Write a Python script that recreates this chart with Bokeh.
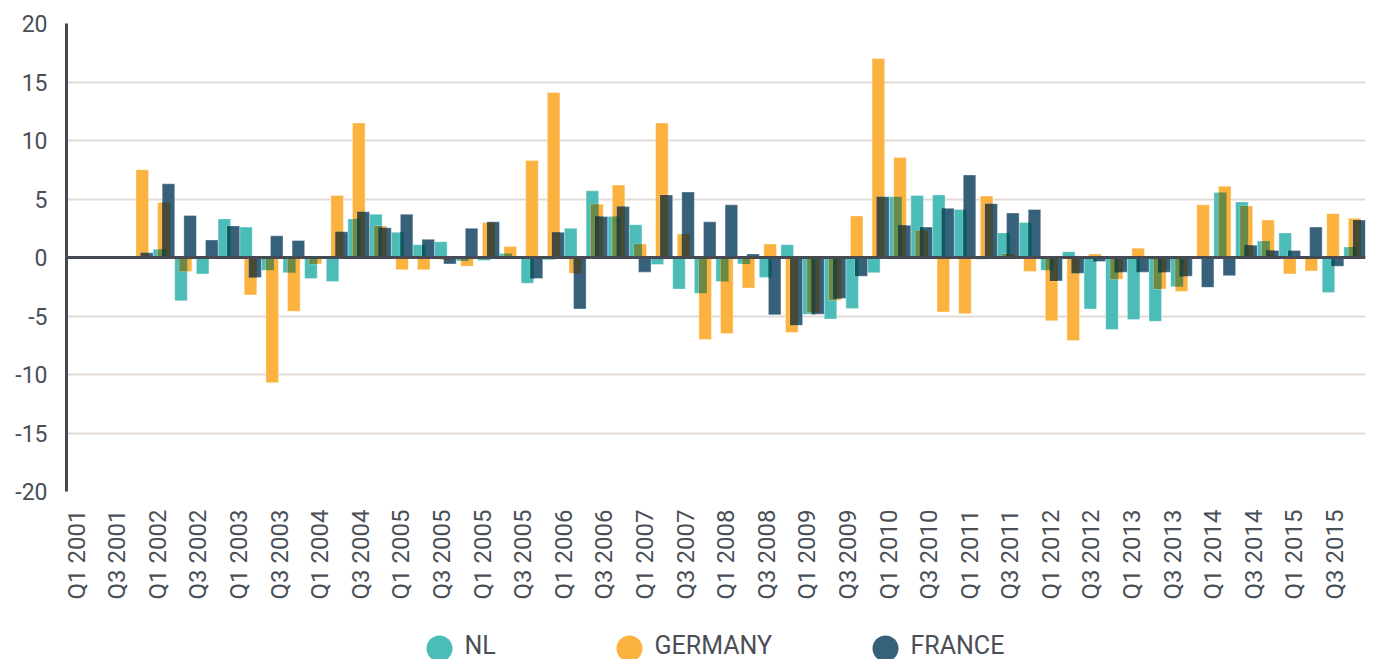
import math
from bokeh.plotting import figure
from bokeh.models import Range1d, LinearAxis, FixedTicker, Span
from bokeh.layouts import column
from bokeh.embed import file_html
from bokeh.resources import INLINE
from bokeh.core.properties import value

# ---------------- data ----------------
quarters = [f"Q{q} {y}" for y in range(2001, 2016) for q in range(1, 5)]  # 60 bar groups

tick_labels = ["Q1 2001", "Q3 2001", "Q1 2002", "Q3 2002", "Q1 2003", "Q3 2003",
               "Q1 2004", "Q3 2004", "Q1 2005", "Q3 2005", "Q1 2005", "Q3 2005",
               "Q1 2006", "Q3 2006", "Q1 2007", "Q3 2007", "Q1 2008", "Q3 2008",
               "Q1 2009", "Q3 2009", "Q1 2010", "Q3 2010", "Q1 2011", "Q3 2011",
               "Q1 2012", "Q3 2012", "Q1 2013", "Q3 2013", "Q1 2014", "Q3 2014",
               "Q1 2015", "Q3 2015"]

NL = [None, None, None, 0, 0.7, -3.7, -1.4, 3.3, 2.6, -1.1,
      -1.3, -1.8, -2.05, 3.3, 3.7, 2.15, 1.1, 1.35, -0.3, -0.25,
      0.35, -2.2, -0.2, 2.5, 5.7, 3.5, 2.8, -0.6, -2.7, -3.05,
      -2.05, -0.55, -1.7, 1.1, -4.85, -5.25, -4.35, -1.3, 5.2, 5.3,
      5.35, 4.1, -0.15, 2.1, 3.0, -1.1, 0.5, -4.4, -6.15, -5.3,
      -5.45, -2.5, 0, 5.55, 4.75, 1.4, 2.1, 0, -3.0, 0.9]

GERMANY = [None, None, None, 7.5, 4.7, -1.2, -0.1, 0, -3.2, -10.7,
           -4.6, -0.55, 5.3, 11.5, 2.7, -1.05, -1.05, -0.2, -0.75, 3.0,
           0.95, 8.3, 14.1, -1.35, 4.55, 6.2, 1.15, 11.5, 2.0, -7.0,
           -6.5, -2.6, 1.15, -6.4, -4.7, -3.65, 3.55, 17.0, 8.55, 2.3,
           -4.65, -4.8, 5.25, 0.3, -1.2, -5.4, -7.1, 0.3, -1.85, 0.8,
           -2.7, -2.9, 4.5, 6.1, 4.4, 3.2, -1.4, -1.15, 3.75, 3.35]

FRANCE = [None, None, None, 0.4, 6.3, 3.6, 1.5, 2.7, -1.7, 1.85,
          1.45, 0, 2.2, 3.9, 2.55, 3.7, 1.55, -0.55, 2.5, 3.05,
          0, -1.8, 2.15, -4.4, 3.5, 4.35, -1.25, 5.35, 5.6, 3.05,
          4.5, 0.3, -4.9, -5.8, -4.85, -3.5, -1.6, 5.2, 2.75, 2.6,
          4.2, 7.05, 4.6, 3.8, 4.1, -2.0, -1.35, -0.35, -1.25, -1.25,
          -1.25, -1.6, -2.55, -1.55, 1.05, 0.6, 0.6, 2.6, -0.75, 3.2]

series_names = ["NL", "GERMANY", "FRANCE"]
series_values = [NL, GERMANY, FRANCE]
series_colors = ["#4bbcb8", "#fbb23f", "#37607b"]

# ---------------- styling ----------------
OFFS = [-0.21, 0.0, 0.21]   # per-series offset inside a quarter slot
W = 0.58                     # bar width (fraction of slot)
pair_colors = {(0, 1): "#6b8a45", (1, 2): "#474a35", (0, 2): "#0d5a5e"}
triple_color = "#27463a"
TXT = "#4a4f57"
FONT = "Roboto"
BL, BR = 66, 11   # frame borders (left/right), shared by both figures

p = figure(width=1376, height=611, x_range=Range1d(-0.5, 59.5), y_range=Range1d(-20, 20),
           output_backend="svg", toolbar_location=None, x_axis_type=None,
           min_border_left=BL, min_border_right=BR, min_border_top=23, min_border_bottom=120)
p.outline_line_color = None
p.background_fill_color = "white"
p.border_fill_color = "white"

def ext(i, k, v):
    l = i + OFFS[k] - W / 2
    return l, l + W, min(0, v), max(0, v)

# single bars
for k in range(3):
    L, R, B, T = [], [], [], []
    for i, v in enumerate(series_values[k]):
        if v is None or v == 0:
            continue
        l, r, b, t = ext(i, k, v)
        L.append(l); R.append(r); B.append(b); T.append(t)
    p.quad(left=L, right=R, bottom=B, top=T, fill_color=series_colors[k],
           line_color="white", line_alpha=0.35, line_width=1)

# pairwise overlaps (multiply-like look)
for (a, b), col in pair_colors.items():
    L, R, B, T = [], [], [], []
    for i in range(len(quarters)):
        va, vb = series_values[a][i], series_values[b][i]
        if va is None or vb is None or va * vb <= 0:
            continue
        la, ra, _, _ = ext(i, a, va)
        lb, rb, _, _ = ext(i, b, vb)
        l, r = max(la, lb), min(ra, rb)
        if r <= l:
            continue
        if va > 0:
            bt, tp = 0, min(va, vb)
        else:
            bt, tp = max(va, vb), 0
        L.append(l); R.append(r); B.append(bt); T.append(tp)
    p.quad(left=L, right=R, bottom=B, top=T, fill_color=col, line_color=None)

# triple overlaps
L, R, B, T = [], [], [], []
for i in range(len(quarters)):
    vs = [series_values[k][i] for k in range(3)]
    if any(v is None or v == 0 for v in vs):
        continue
    if not (all(v > 0 for v in vs) or all(v < 0 for v in vs)):
        continue
    exts = [ext(i, k, vs[k]) for k in range(3)]
    l = max(e[0] for e in exts); r = min(e[1] for e in exts)
    if r <= l:
        continue
    if vs[0] > 0:
        bt, tp = 0, min(vs)
    else:
        bt, tp = max(vs), 0
    L.append(l); R.append(r); B.append(bt); T.append(tp)
p.quad(left=L, right=R, bottom=B, top=T, fill_color=triple_color, line_color=None)

# zero line
p.add_layout(Span(location=0, dimension="width", line_color="#464b53", line_width=3))

# y axis
yt = list(range(-20, 21, 5))
p.yaxis.ticker = FixedTicker(ticks=yt)
p.yaxis.major_label_overrides = {t: str(t) for t in yt}
p.yaxis.axis_line_color = "#464b53"
p.yaxis.axis_line_width = 3
p.yaxis.major_tick_line_color = None
p.yaxis.minor_tick_line_color = None
p.yaxis.major_label_text_font = FONT
p.yaxis.major_label_text_font_size = "23px"
p.yaxis.major_label_text_color = TXT
p.yaxis.major_label_standoff = 13
p.ygrid.grid_line_color = "#e2dad3"
p.ygrid.grid_line_width = 2

# x axis (label axis with its own slots)
p.extra_x_ranges = {"lab": Range1d(-0.5, 63.5)}
xa = LinearAxis(x_range_name="lab", ticker=FixedTicker(ticks=list(range(0, 64, 2))),
                major_label_overrides={2 * j: lab for j, lab in enumerate(tick_labels)},
                major_label_orientation=math.pi / 2,
                axis_line_color=None, major_tick_line_color=None, minor_tick_line_color=None,
                major_label_text_font=FONT, major_label_text_font_size="24px",
                major_label_text_color=TXT, major_label_standoff=12)
p.add_layout(xa, "below")

# legend strip (x in page pixels, frame aligned with the main plot)
legend_x = [439, 629, 885]
lg = figure(width=1376, height=48, x_range=Range1d(BL, 1376 - BR), y_range=Range1d(48, 0),
            output_backend="svg", toolbar_location=None,
            min_border_left=BL, min_border_right=BR, min_border_top=0, min_border_bottom=0,
            x_axis_type=None, y_axis_type=None)
lg.outline_line_color = None
lg.grid.visible = False
lg.scatter(x=legend_x, y=[37] * 3, size=26, marker="circle", fill_color=series_colors, line_color=None)
lg.text(x=[x + 25 for x in legend_x], y=[34] * 3, text=series_names,
        text_font=value(FONT), text_font_size="25px", text_color=TXT,
        text_align="left", text_baseline="middle")

layout = column(p, lg, spacing=0)
open("out.html", "w").write(file_html(layout, INLINE))
